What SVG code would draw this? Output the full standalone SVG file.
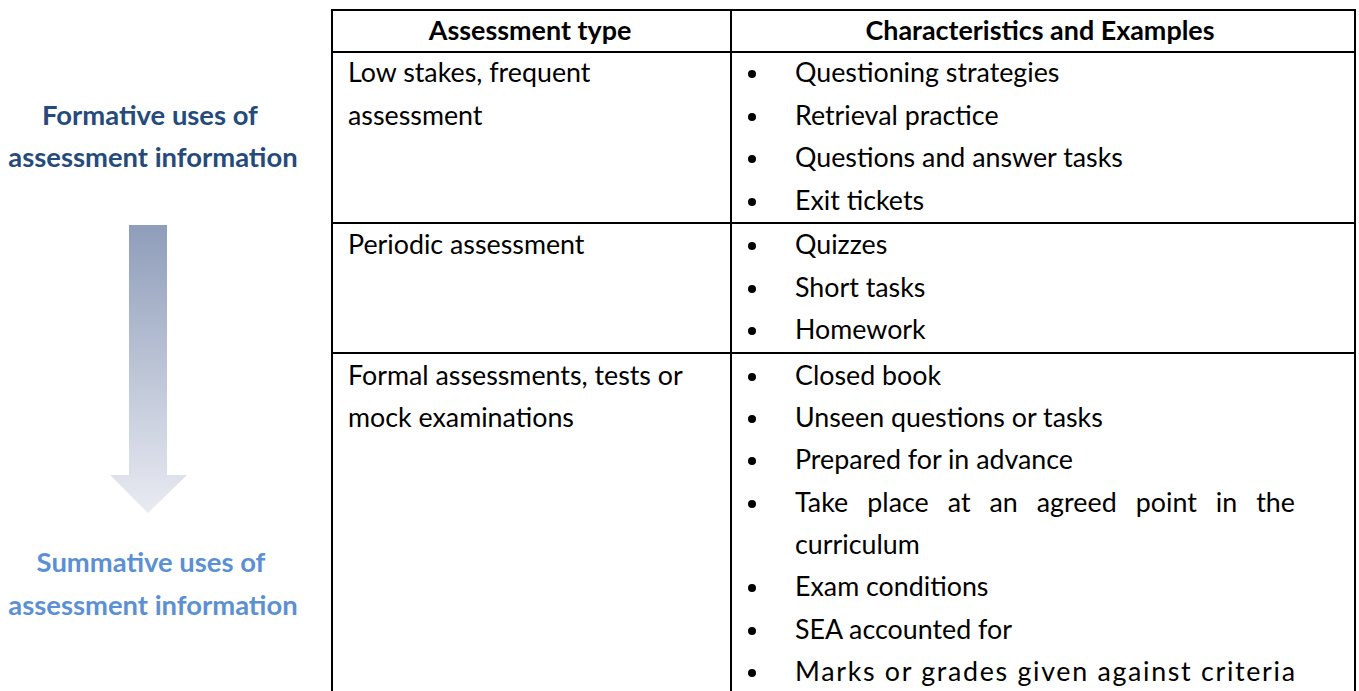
<svg xmlns="http://www.w3.org/2000/svg" width="1359" height="691" viewBox="0 0 1359 691">
<defs>
<linearGradient id="arrowGrad" x1="0" y1="0" x2="0" y2="1">
<stop offset="0" stop-color="#8f9dba"/>
<stop offset="1" stop-color="#e9ebf2"/>
</linearGradient>
<style>
.t{font-family:Lato,"Open Sans","Liberation Sans",sans-serif;font-size:26.8px;fill:#000}
.h{font-family:Lato,"Open Sans","Liberation Sans",sans-serif;font-size:26.9px;font-weight:bold;fill:#000;text-anchor:middle}
.lab{font-family:Lato,"Open Sans","Liberation Sans",sans-serif;font-size:27.4px;font-weight:bold;text-anchor:middle}
.form{fill:#254a7c}
.summ{fill:#5b90d4}
.grid{stroke:#000;stroke-width:2;fill:none}
.b{fill:#000}
.j{word-spacing:12px}
</style>
</defs>
<rect width="1359" height="691" fill="#fff"/>

<g id="formative-label">
<text class="lab form" x="150" y="125">Formative uses of</text>
<text class="lab form" x="153" y="167">assessment information</text>
</g>

<g id="arrow">
<path d="M129,225 H167 V475 H187 L148,513 L110,475 H129 Z" fill="url(#arrowGrad)"/>
</g>

<g id="summative-label">
<text class="lab summ" x="151" y="572">Summative uses of</text>
<text class="lab summ" x="153" y="615">assessment information</text>
</g>

<g id="table-grid" class="grid">
<path d="M332,692 V10 H1355 V692"/>
<line x1="731" y1="10" x2="731" y2="692"/>
<line x1="332" y1="52" x2="1355" y2="52"/>
<line x1="332" y1="223" x2="1355" y2="223"/>
<line x1="332" y1="353" x2="1355" y2="353"/>
</g>

<g id="header">
<text class="h" x="530" y="40">Assessment type</text>
<text class="h" x="1040" y="40">Characteristics and Examples</text>
</g>

<g id="row-low-stakes">
<text class="t" x="348" y="82">Low stakes, frequent</text>
<text class="t" x="348" y="125">assessment</text>
<circle class="b" cx="752" cy="74" r="4"/>
<text class="t" x="795" y="82">Questioning strategies</text>
<circle class="b" cx="752" cy="117" r="4"/>
<text class="t" x="795" y="125">Retrieval practice</text>
<circle class="b" cx="752" cy="159" r="4"/>
<text class="t" x="795" y="167">Questions and answer tasks</text>
<circle class="b" cx="752" cy="202" r="4"/>
<text class="t" x="795" y="210">Exit tickets</text>
</g>

<g id="row-periodic">
<text class="t" x="348" y="254">Periodic assessment</text>
<circle class="b" cx="752" cy="246" r="4"/>
<text class="t" x="795" y="254">Quizzes</text>
<circle class="b" cx="752" cy="289" r="4"/>
<text class="t" x="795" y="297">Short tasks</text>
<circle class="b" cx="752" cy="331" r="4"/>
<text class="t" x="795" y="339">Homework</text>
</g>

<g id="row-formal">
<text class="t" x="348" y="385">Formal assessments, tests or</text>
<text class="t" x="348" y="427">mock examinations</text>
<circle class="b" cx="752" cy="377" r="4"/>
<text class="t" x="795" y="385">Closed book</text>
<circle class="b" cx="752" cy="419" r="4"/>
<text class="t" x="795" y="427">Unseen questions or tasks</text>
<circle class="b" cx="752" cy="461" r="4"/>
<text class="t" x="795" y="469">Prepared for in advance</text>
<circle class="b" cx="752" cy="504" r="4"/>
<text class="t j" x="795" y="512" textLength="500" lengthAdjust="spacing">Take place at an agreed point in the</text>
<text class="t" x="795" y="554">curriculum</text>
<circle class="b" cx="752" cy="588" r="4"/>
<text class="t" x="795" y="596">Exam conditions</text>
<circle class="b" cx="752" cy="631" r="4"/>
<text class="t" x="795" y="639">SEA accounted for</text>
<circle class="b" cx="752" cy="673" r="4"/>
<text class="t" x="795" y="681" textLength="500" lengthAdjust="spacing">Marks or grades given against criteria</text>
</g>
</svg>
